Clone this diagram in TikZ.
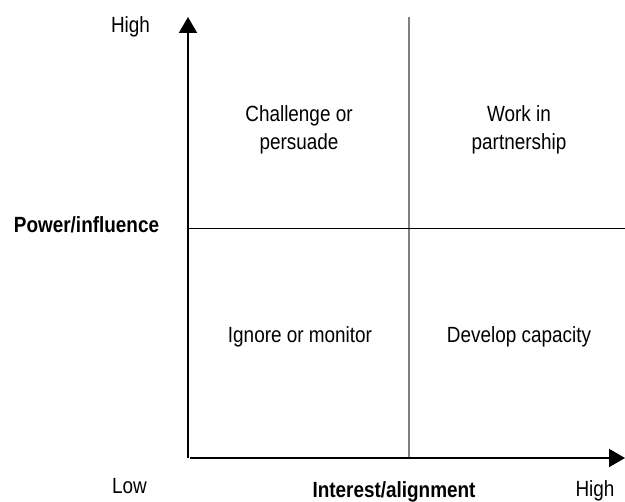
\documentclass[tikz,border=0pt]{standalone}
\usepackage{fontspec}
\setmainfont{Liberation Sans}[FakeStretch=0.86]
\usetikzlibrary{arrows.meta}

\begin{document}
\begin{tikzpicture}[x=1pt,y=-1pt,
  lbl/.style={anchor=base,inner sep=0pt,font=\fontsize{22}{28}\selectfont},
  boldlbl/.style={lbl,font=\fontsize{22}{28}\selectfont\bfseries},
  quad/.style={lbl,align=center},
  axis/.style={line width=2pt,-{Triangle[length=16pt,width=18pt]}}]
\useasboundingbox (0,0) rectangle (625,502);
% axes and dividers
\coordinate (o) at (188,458);
\coordinate (ytop) at (188,17);
\coordinate (xend) at (625,458);
\coordinate (vtop) at (409,17);
\coordinate (vbot) at (409,458);
\coordinate (hleft) at (188,229);
\coordinate (hright) at (625,229);
\draw[black!50,line width=2pt] (vtop) -- (vbot);
\draw[line width=1pt] (hleft) -- (hright);
\draw[axis] (o) -- (ytop);
\draw[axis] ([xshift=2pt]o) -- (xend);
% axis labels
\node[lbl] (yhigh) at (130.5,33) {High};
\node[lbl] (ylow) at (129.5,494) {Low};
\node[boldlbl] (ylabel) at (86.5,233) {Power/influence};
\node[boldlbl] (xlabel) at (394,498) {Interest/alignment};
\node[lbl] (xhigh) at (595,497) {High};
% quadrants
\node[quad] (challenge) at (299,150) {Challenge or\\persuade};
\node[quad] (partner) at (519,150) {Work in\\partnership};
\node[quad] (ignore) at (300,343) {Ignore or monitor};
\node[quad] (develop) at (519,343) {Develop capacity};
\end{tikzpicture}
\end{document}
